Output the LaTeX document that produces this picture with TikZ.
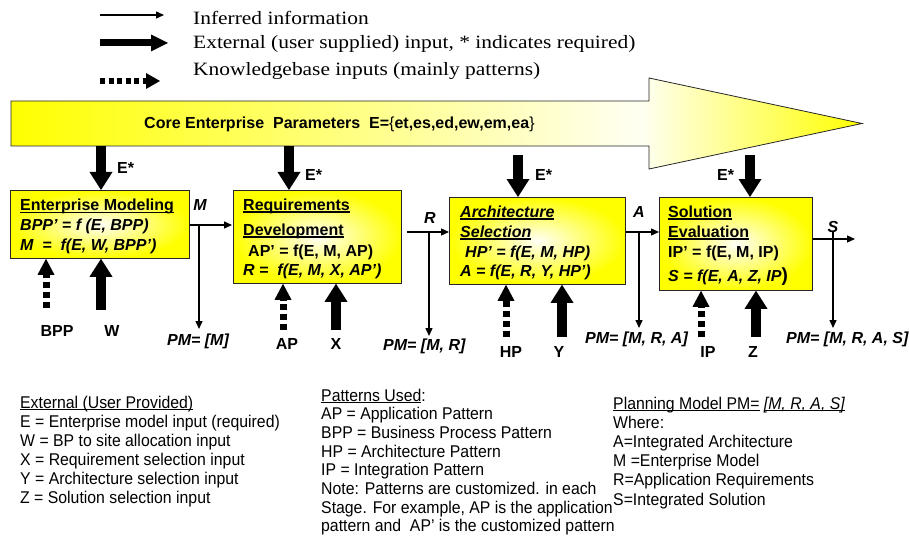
\documentclass[tikz,border=0pt]{standalone}
\usepackage{fontspec}
\usepackage{graphicx}
\setmainfont{Liberation Sans}
\newfontfamily\legendfont{Liberation Serif}
\usetikzlibrary{arrows.meta}
\pgfdeclarehorizontalshading{coreshade}{100bp}{color(0bp)=(yellow); color(25bp)=(yellow); color(62bp)=(yellow!5); color(75bp)=(yellow); color(100bp)=(yellow)}
\newcommand{\ulx}[2][1.6pt]{\leavevmode\setbox0=\hbox{#2}\dp0=0pt\vtop{\copy0\kern1.2pt\hrule height #1}}
\newcommand{\legx}[1]{\scalebox{1.14}[1]{#1}}
\newcommand{\notex}[1]{\scalebox{0.93}[1]{#1}}
\begin{document}
\begin{tikzpicture}[x=1pt,y=-1pt,
  thinarr/.style={line width=1.3pt,-{Triangle[width=7pt,length=8pt]}},
  thickarr/.style={line width=10pt,-{Triangle[width=23pt,length=18pt,line width=0pt]}},
  kbarr/.style={line width=7pt,dash pattern=on 6pt off 4pt,-{Triangle[width=17pt,length=16pt,line width=0pt]}},
  stagebox/.style={draw=black!85,line width=0.8pt,inner color=yellow!3,outer color=yellow,anchor=north west,inner sep=0pt},
  bt/.style={font=\fontsize{16}{19}\selectfont\bfseries,anchor=base west,inner sep=0pt},
  bti/.style={bt,font=\fontsize{16}{19}\selectfont\bfseries\itshape},
  lbl/.style={font=\fontsize{16}{19}\selectfont\bfseries,anchor=base,inner sep=0pt},
  lbli/.style={lbl,font=\fontsize{16}{19}\selectfont\bfseries\itshape},
  legtxt/.style={font=\fontsize{18.8}{22}\selectfont\legendfont,anchor=base west,inner sep=0pt},
  note/.style={font=\fontsize{17}{19}\selectfont,anchor=base west,inner sep=0pt},
]
\useasboundingbox[fill=white] (0,0) rectangle (909,540);

% legend
\coordinate (la1) at (100,15); \coordinate (lb1) at (164,15);
\draw[thinarr] (la1) -- (lb1);
\coordinate (la2) at (100,43); \coordinate (lb2) at (168,43);
\draw[line width=7pt,-{Triangle[width=17pt,length=17pt,line width=0pt]}] (la2) -- (lb2);
\coordinate (la3) at (100,81); \coordinate (lb3) at (160,81);
\draw[line width=6pt,dash pattern=on 5pt off 3.5pt,-{Triangle[width=16pt,length=14pt,line width=0pt]}] (la3) -- (lb3);
\node[legtxt] (lt1) at (193,25) {\legx{Inferred information}};
\node[legtxt] (lt2) at (193,49) {\legx{External (user supplied) input, * indicates required)}};
\node[legtxt] (lt3) at (193,76) {\legx{Knowledgebase inputs (mainly patterns)}};

% core arrow
\shadedraw[shading=coreshade,draw=black!85,line width=0.8pt]
  (11,101) -- (649,101) -- (649,78) -- (862,123.5) -- (649,169) -- (649,146) -- (11,146) -- cycle;
\node[bt] (core) at (144,129) {Core Enterprise\ \ Parameters\ \ E=\textmd{\{}et,es,ed,ew,em,ea\textmd{\}}};

% stage boxes
\node[stagebox,minimum width=179pt,minimum height=68pt] (b1) at (10,190) {};
\node[stagebox,minimum width=168pt,minimum height=93pt] (b2) at (233,190) {};
\node[stagebox,minimum width=176pt,minimum height=87pt] (b3) at (449,197) {};
\node[stagebox,minimum width=153pt,minimum height=93pt] (b4) at (659,197) {};

\node[bt]  (b1t1) at (20,210.5) {\ulx{Enterprise Modeling}};
\node[bti] (b1t2) at (20,230) {BPP’ = f (E, BPP)};
\node[bti] (b1t3) at (20,250) {M\ \ =\ \ f(E, W, BPP’)};

\node[bt]  (b2t1) at (243,210) {\ulx{Requirements}};
\node[bt]  (b2t2) at (243,235) {\ulx{Development}};
\node[bt]  (b2t3) at (248,256) {AP’ = f(E, M, AP)};
\node[bti] (b2t4) at (243,275.5) {R =\ \ f(E, M, X, AP’)};

\node[bti] (b3t1) at (460,217) {\ulx{Architecture}};
\node[bti] (b3t2) at (460,237) {\ulx{Selection}};
\node[bti] (b3t3) at (465,257) {HP’ = f(E, M, HP)};
\node[bti] (b3t4) at (460,276) {A = f(E, R, Y, HP’)};

\node[bt]  (b4t1) at (668,217) {\ulx{Solution}};
\node[bt]  (b4t2) at (668,237) {\ulx{Evaluation}};
\node[bt]  (b4t3) at (668,257) {IP’ = f(E, M, IP)};
\node[bti] (b4t4) at (668,281) {S = f(E, A, Z, IP\upshape{\fontsize{19}{19}\selectfont)}};

% E* inputs
\coordinate (e1) at (101,146);
\coordinate (e2) at (289,146);
\coordinate (e3) at (518,155);
\coordinate (e4) at (750,155);
\draw[thickarr] (e1) -- (e1 |- b1.north);
\draw[thickarr] (e2) -- (e2 |- b2.north);
\draw[thickarr] (e3) -- (e3 |- b3.north);
\draw[thickarr] (e4) -- (e4 |- b4.north);
\node[bt] (es1) at (117,173) {E*};
\node[bt] (es2) at (305,180) {E*};
\node[bt] (es3) at (535,180) {E*};
\node[bt] (es4) at (717,180) {E*};

% flow M
\coordinate (mrow) at (0,225);
\draw[thinarr,shorten >=1pt] (b1.east |- mrow) -- (b2.west |- mrow);
\coordinate (mbr) at (199,225); \coordinate (mend) at (199,329);
\draw[thinarr] (mbr) -- (mend);
\node[lbli] (ml) at (200,210) {M};
\node[lbli] (pm1) at (198,345) {PM= [M]};

% flow R
\coordinate (r0) at (407,232);
\draw[thinarr] (r0) -- (b3.west |- r0);
\coordinate (rbr) at (429,232); \coordinate (rend) at (429,336);
\draw[thinarr] (rbr) -- (rend);
\node[lbli] (rl) at (430,223) {R};
\node[bti] (pm2) at (383,350) {PM= [M, R]};

% flow A
\coordinate (arow) at (0,232);
\draw[thinarr] (b3.east |- arow) -- (b4.west |- arow);
\coordinate (abr) at (639,232); \coordinate (aend) at (639,328);
\draw[thinarr] (abr) -- (aend);
\node[lbli] (al) at (639,217) {A};
\node[bti] (pm3) at (585,343) {PM= [M, R, A]};

% flow S
\coordinate (srow) at (0,239); \coordinate (send) at (855,239);
\draw[thinarr] (b4.east |- srow) -- (send);
\coordinate (sbr) at (833,231); \coordinate (sendd) at (833,328);
\draw[thinarr] (sbr) -- (sendd);
\node[lbli] (sl) at (833,232) {S};
\node[bti] (pm4) at (786,343) {PM= [M, R, A, S]};

% bottom inputs
\coordinate (bppt) at (46,308); \draw[kbarr] (bppt) -- (bppt |- b1.south);
\coordinate (wt) at (101,310); \draw[thickarr] (wt) -- (wt |- b1.south);
\node[lbl] (bppl) at (57,336) {BPP};
\node[lbl] (wl) at (112,336) {W};

\coordinate (apt) at (283,330); \draw[kbarr] (apt) -- (apt |- b2.south);
\coordinate (xt) at (336,330); \draw[thickarr] (xt) -- (xt |- b2.south);
\node[lbl] (apl) at (287,349) {AP};
\node[lbl] (xl) at (336,349) {X};

\coordinate (hpt) at (506,337); \draw[kbarr] (hpt) -- (hpt |- b3.south);
\coordinate (yt) at (562,337); \draw[thickarr] (yt) -- (yt |- b3.south);
\node[lbl] (hpl) at (511,357) {HP};
\node[lbl] (yl) at (559,357) {Y};

\coordinate (ipt) at (701,337); \draw[kbarr] (ipt) -- (ipt |- b4.south);
\coordinate (zt) at (756,337); \draw[thickarr] (zt) -- (zt |- b4.south);
\node[lbl] (ipl) at (708,357) {IP};
\node[lbl] (zl) at (753,357) {Z};

% bottom notes
\foreach \t [count=\i from 0] in {{\ulx[0.9pt]{External (User Provided)}},
  {E = Enterprise model input (required)},
  {W = BP to site allocation input},
  {X = Requirement selection input},
  {Y = Architecture selection input},
  {Z = Solution selection input}}
  \node[note] (ca\i) at (20,408+19.1*\i) {\notex{\t}};

\foreach \t [count=\i from 0] in {{\ulx[0.9pt]{Patterns Used}:},
  {AP = Application Pattern},
  {BPP = Business Process Pattern},
  {HP = Architecture Pattern},
  {IP = Integration Pattern},
  {Note: Patterns are customized. in each},
  {Stage. For example, AP is the application},
  {pattern and\ \ AP’ is the customized pattern}}
  \node[note] (cb\i) at (321,401+18.7*\i) {\notex{\t}};

\foreach \t [count=\i from 0] in {{\ulx[0.9pt]{Planning Model PM=} \ulx[0.9pt]{\itshape [M, R, A, S]}},
  {Where:},
  {A=Integrated Architecture},
  {M =Enterprise Model},
  {R=Application Requirements},
  {S=Integrated Solution}}
  \node[note] (cc\i) at (613,409+19.2*\i) {\notex{\t}};
\end{tikzpicture}
\end{document}
